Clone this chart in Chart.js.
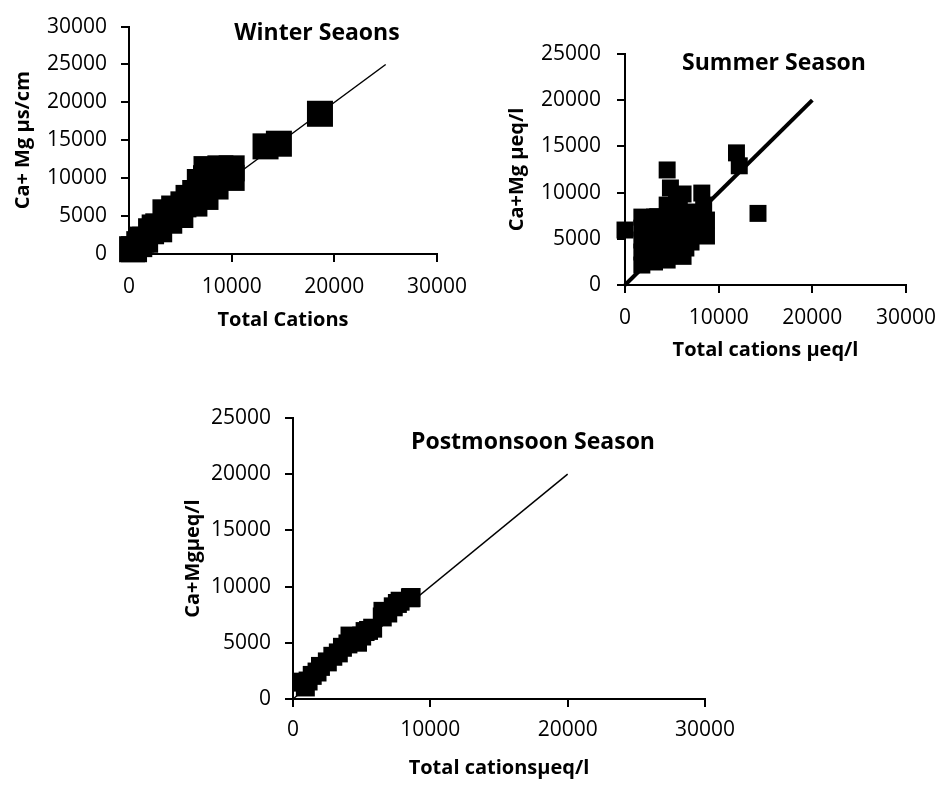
<!DOCTYPE html>
<html><head><meta charset="utf-8">
<script src="https://cdn.jsdelivr.net/npm/chart.js@4.4.1/dist/chart.umd.min.js"></script>
<style>
html,body{margin:0;padding:0;background:#fff;width:948px;height:786px;overflow:hidden;}
canvas{position:absolute;left:0;top:0;width:948px;height:786px;}
</style></head><body>
<canvas id="c1" width="948" height="786"></canvas>
<canvas id="c2" width="948" height="786"></canvas>
<canvas id="c3" width="948" height="786"></canvas>
<script>
// ---------- data ----------
const panelTitles = ['Winter Seaons', 'Summer Season', 'Postmonsoon Season'];
const xAxisTitles = ['Total Cations', 'Total cations \u00b5eq/l', 'Total cations\u00b5eq/l'];
const yAxisTitles = ['Ca+ Mg \u00b5s/cm', 'Ca+Mg \u00b5eq/l', 'Ca+Mg\u00b5eq/l'];

const xTickValues = [0, 10000, 20000, 30000];
const winterYTicks = [0, 5000, 10000, 15000, 20000, 25000, 30000];
const seasonYTicks = [0, 5000, 10000, 15000, 20000, 25000];

const winterX = [300, 1200, 2150, 2850, 3550, 5300, 6450, 7550, 8900, 10000,
  10000, 8430, 7450, 6370, 5000, 3920, 2940, 1570, 490,
  4400, 5800, 6900, 7500, 8500, 9400, 2500, 1000, 6000,
  13300, 14600, 18600];
const winterY = [630, 1900, 3000, 3650, 5500, 6550, 8050, 11200, 11300, 11300,
  10040, 8900, 7530, 6650, 5150, 4390, 3260, 1880, 630,
  6000, 7400, 9500, 10000, 10200, 10800, 3500, 1300, 7000,
  14200, 14550, 18500];

const summerX = [0, 14200, 11900, 12200, 4500, 4850, 6200, 8200, 8400,
  1800, 1800, 1800, 1800, 1800,
  3150, 3150, 3150, 3150,
  4500, 4500, 4500, 4500, 4500,
  5800, 5800, 5800, 5800, 6200,
  7050, 7050, 7050, 8700, 8700,
  2400, 2400, 2400, 3800, 3800, 3800, 5100, 5100, 5100,
  6500, 6500, 6500, 7800, 7800, 5500, 3500];
const summerY = [5950, 7750, 14300, 12900, 12450, 10500, 9850, 9950, 8650,
  7350, 6150, 4870, 3570, 2160,
  7350, 5950, 4330, 2490,
  8650, 7030, 5410, 3790, 2700,
  8330, 6600, 4870, 3250, 3100,
  7900, 6170, 4650, 7030, 5300,
  6800, 5300, 3000, 6600, 5000, 3300, 7600, 5800, 4200,
  7400, 5600, 4000, 7300, 5800, 9000, 7400];

const postX = [900, 1400, 2900, 4150, 5250, 6550, 7800, 8600,
  8550, 6900, 5800, 4700, 3300, 2500, 1750, 750,
  1100, 2000, 3600, 4000, 4400, 5000, 5500, 6500, 7300, 7600];
const postY = [1070, 2100, 3800, 5600, 6000, 7800, 8700, 9030,
  9000, 7650, 6300, 5050, 4100, 3300, 2400, 1500,
  1600, 2900, 4600, 4900, 5300, 5600, 6100, 7300, 8200, 8500];

const winterLine = [0, 25000];
const seasonLine = [0, 20000];

// ---------- layout ----------
const FONT = '"Open Sans", "Liberation Sans", sans-serif';
const pair = (xs, ys) => xs.map((x, i) => ({x: x, y: ys[i]}));

const titlePlugin = {
  id: 'panelTitle',
  afterDraw(chart) {
    const p = chart.options.plugins.panelTitle;
    const ctx = chart.ctx;
    ctx.save();
    ctx.font = 'bold 23px ' + FONT;
    ctx.fillStyle = '#000';
    ctx.textAlign = 'center';
    ctx.textBaseline = 'middle';
    ctx.fillText(p.text, p.x, p.y);
    ctx.restore();
  }
};

function makeChart(id, p) {
  const lh = 24;
  const yW = p.left - p.yTitleX + lh / 2;
  const xH = p.xTitleY - p.bottom + lh / 2;
  const axisGrid = {drawOnChartArea: false, drawTicks: true, tickLength: 8, color: '#000', lineWidth: 2};
  const axisBorder = {display: true, color: '#000', width: 2};
  new Chart(document.getElementById(id), {
    type: 'scatter',
    data: {datasets: [
      {data: p.line, showLine: true, borderColor: '#000', borderWidth: p.lineW, pointRadius: 0,
       order: 2, clip: false, fill: false},
      {data: p.points, pointStyle: 'rect', pointRadius: p.r, pointHoverRadius: p.r,
       backgroundColor: '#000', borderWidth: 0, order: 1, clip: false}
    ]},
    options: {
      responsive: false, animation: false, events: [],
      layout: {padding: {left: p.left - yW, top: p.top, right: 948 - p.right, bottom: 786 - p.bottom - xH}},
      plugins: {legend: {display: false}, tooltip: {enabled: false},
        panelTitle: {text: p.title, x: p.titleX, y: p.titleY}},
      scales: {
        x: {type: 'linear', min: 0, max: 30000,
          afterFit(s) { s.height = xH; },
          afterBuildTicks(s) { s.ticks = xTickValues.map(v => ({value: v})); },
          ticks: {color: '#000', font: {family: FONT, size: 21}, padding: p.xPad, maxRotation: 0,
            callback: v => String(v)},
          grid: axisGrid, border: axisBorder,
          title: {display: true, text: p.xTitle, color: '#000', padding: 0,
            font: {family: FONT, size: 20, weight: 'bold'}}},
        y: {type: 'linear', min: 0, max: p.yMax,
          afterFit(s) { s.width = yW; },
          afterBuildTicks(s) { s.ticks = p.yTicks.map(v => ({value: v})); },
          ticks: {color: '#000', font: {family: FONT, size: 21}, padding: p.yPad,
            callback: v => String(v)},
          grid: axisGrid, border: axisBorder,
          title: {display: true, text: p.yTitle, color: '#000', padding: 0,
            font: {family: FONT, size: 20, weight: 'bold'}}}
      }
    },
    plugins: [titlePlugin]
  });
}

makeChart('c1', {
  points: pair(winterX, winterY), line: pair(winterLine, winterLine), lineW: 1.5, r: 18.4,
  left: 129, right: 437, top: 16, bottom: 254, yMax: 30000, yTicks: winterYTicks,
  yTitleX: 23, xTitleY: 320, xPad: 12, yPad: 14,
  title: panelTitles[0], titleX: 317, titleY: 33, xTitle: xAxisTitles[0], yTitle: yAxisTitles[0]
});
makeChart('c2', {
  points: pair(summerX, summerY), line: pair(seasonLine, seasonLine), lineW: 4, r: 12,
  left: 625, right: 911, top: 54, bottom: 285, yMax: 25000, yTicks: seasonYTicks,
  yTitleX: 517, xTitleY: 350, xPad: 12, yPad: 16,
  title: panelTitles[1], titleX: 774, titleY: 63, xTitle: xAxisTitles[1], yTitle: yAxisTitles[1]
});
makeChart('c3', {
  points: pair(postX, postY), line: pair(seasonLine, seasonLine), lineW: 1.5, r: 13.4,
  left: 293, right: 705, top: 418, bottom: 699, yMax: 25000, yTicks: seasonYTicks,
  yTitleX: 193, xTitleY: 768, xPad: 10, yPad: 14,
  title: panelTitles[2], titleX: 533, titleY: 442, xTitle: xAxisTitles[2], yTitle: yAxisTitles[2]
});
</script></body></html>
